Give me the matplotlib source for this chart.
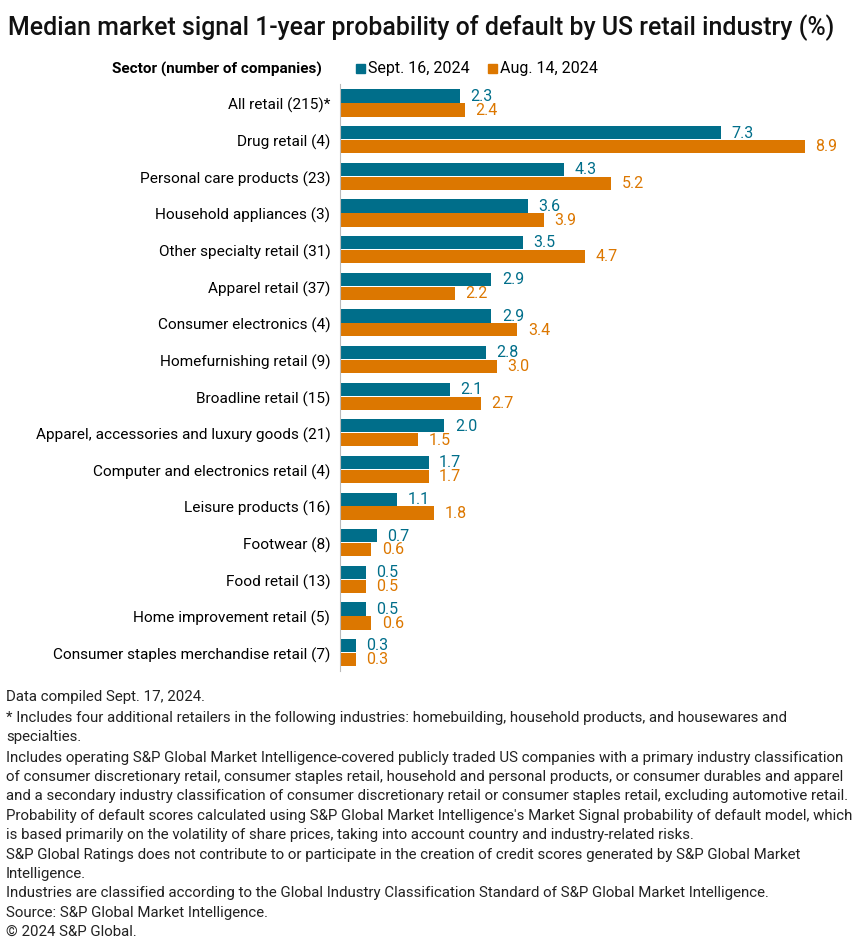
import matplotlib.pyplot as plt
import numpy as np

plt.rcParams["font.family"] = ["Roboto", "DejaVu Sans"]

sectors = [
    "All retail (215)*",
    "Drug retail (4)",
    "Personal care products (23)",
    "Household appliances (3)",
    "Other specialty retail (31)",
    "Apparel retail (37)",
    "Consumer electronics (4)",
    "Homefurnishing retail (9)",
    "Broadline retail (15)",
    "Apparel, accessories and luxury goods (21)",
    "Computer and electronics retail (4)",
    "Leisure products (16)",
    "Footwear (8)",
    "Food retail (13)",
    "Home improvement retail (5)",
    "Consumer staples merchandise retail (7)",
]
sept_16 = [2.3, 7.3, 4.3, 3.6, 3.5, 2.9, 2.9, 2.8, 2.1, 2.0, 1.7, 1.1, 0.7, 0.5, 0.5, 0.3]
aug_14 = [2.4, 8.9, 5.2, 3.9, 4.7, 2.2, 3.4, 3.0, 2.7, 1.5, 1.7, 1.8, 0.6, 0.5, 0.6, 0.3]

series_names = ["Sept. 16, 2024", "Aug. 14, 2024"]

footnotes = [
    "Data compiled Sept. 17, 2024.",
    "* Includes four additional retailers in the following industries: homebuilding, household products, and housewares and",
    "specialties.",
    "Includes operating S&P Global Market Intelligence-covered publicly traded US companies with a primary industry classification",
    "of consumer discretionary retail, consumer staples retail, household and personal products, or consumer durables and apparel",
    "and a secondary industry classification of consumer discretionary retail or consumer staples retail, excluding automotive retail.",
    "Probability of default scores calculated using S&P Global Market Intelligence's Market Signal probability of default model, which",
    "is based primarily on the volatility of share prices, taking into account country and industry-related risks.",
    "S&P Global Ratings does not contribute to or participate in the creation of credit scores generated by S&P Global Market",
    "Intelligence.",
    "Industries are classified according to the Global Industry Classification Standard of S&P Global Market Intelligence.",
    "Source: S&P Global Market Intelligence.",
    "\u00a9 2024 S&P Global.",
]
footnote_y = [697, 718, 737, 758, 777, 796, 816, 835, 855, 874, 893, 913, 932]

TEAL = "#006E8A"
ORANGE = "#DC7700"

fig = plt.figure(figsize=(8.65, 9.45), dpi=100)
W, H = 865, 945
ax = fig.add_axes([340 / W, 1 - 672 / H, (850 - 340) / W, (672 - 85) / H])

y = np.arange(len(sectors))
h = 0.36
ax.barh(y - 0.19, sept_16, height=h, color=TEAL)
ax.barh(y + 0.19, aug_14, height=h, color=ORANGE)

for yi, v in zip(y, sept_16):
    ax.text(v + 0.2, yi - 0.21, f"{v:.1f}", color=TEAL, fontsize=11.5, va="center")
for yi, v in zip(y, aug_14):
    ax.text(v + 0.2, yi + 0.17, f"{v:.1f}", color=ORANGE, fontsize=11.5, va="center")

ax.set_xlim(0, (850 - 340) / 52.2)
ax.set_ylim(15.5, -0.52)
ax.set_yticks(y)
ax.set_yticklabels(sectors, fontsize=11.1)
ax.set_xticks([])
ax.tick_params(axis="y", length=0, pad=7)
for s in ["top", "right", "bottom"]:
    ax.spines[s].set_visible(False)
ax.spines["left"].set_color("#BBBBBB")

fig.text(8 / W, 1 - 28 / H, "Median market signal 1-year probability of default by US retail industry (%)",
         fontsize=17.9, fontweight="medium", va="center", color="#111111")
fig.text(322 / W, 1 - 69 / H, "Sector (number of companies)", fontsize=11, fontweight="bold",
         ha="right", va="center")

# legend
fig.patches.append(plt.Rectangle((356 / W, 1 - 74 / H), 9 / W, 9 / H, color=TEAL,
                                 transform=fig.transFigure, figure=fig))
fig.text(368 / W, 1 - 69 / H, series_names[0], fontsize=11.5, va="center")
fig.patches.append(plt.Rectangle((488 / W, 1 - 74 / H), 9 / W, 9 / H, color=ORANGE,
                                 transform=fig.transFigure, figure=fig))
fig.text(500 / W, 1 - 69 / H, series_names[1], fontsize=11.5, va="center")

for line, yy in zip(footnotes, footnote_y):
    fig.text(6 / W, 1 - yy / H, line, fontsize=10.8, va="center", color="#222222")

fig.savefig("out.png", dpi=100)
